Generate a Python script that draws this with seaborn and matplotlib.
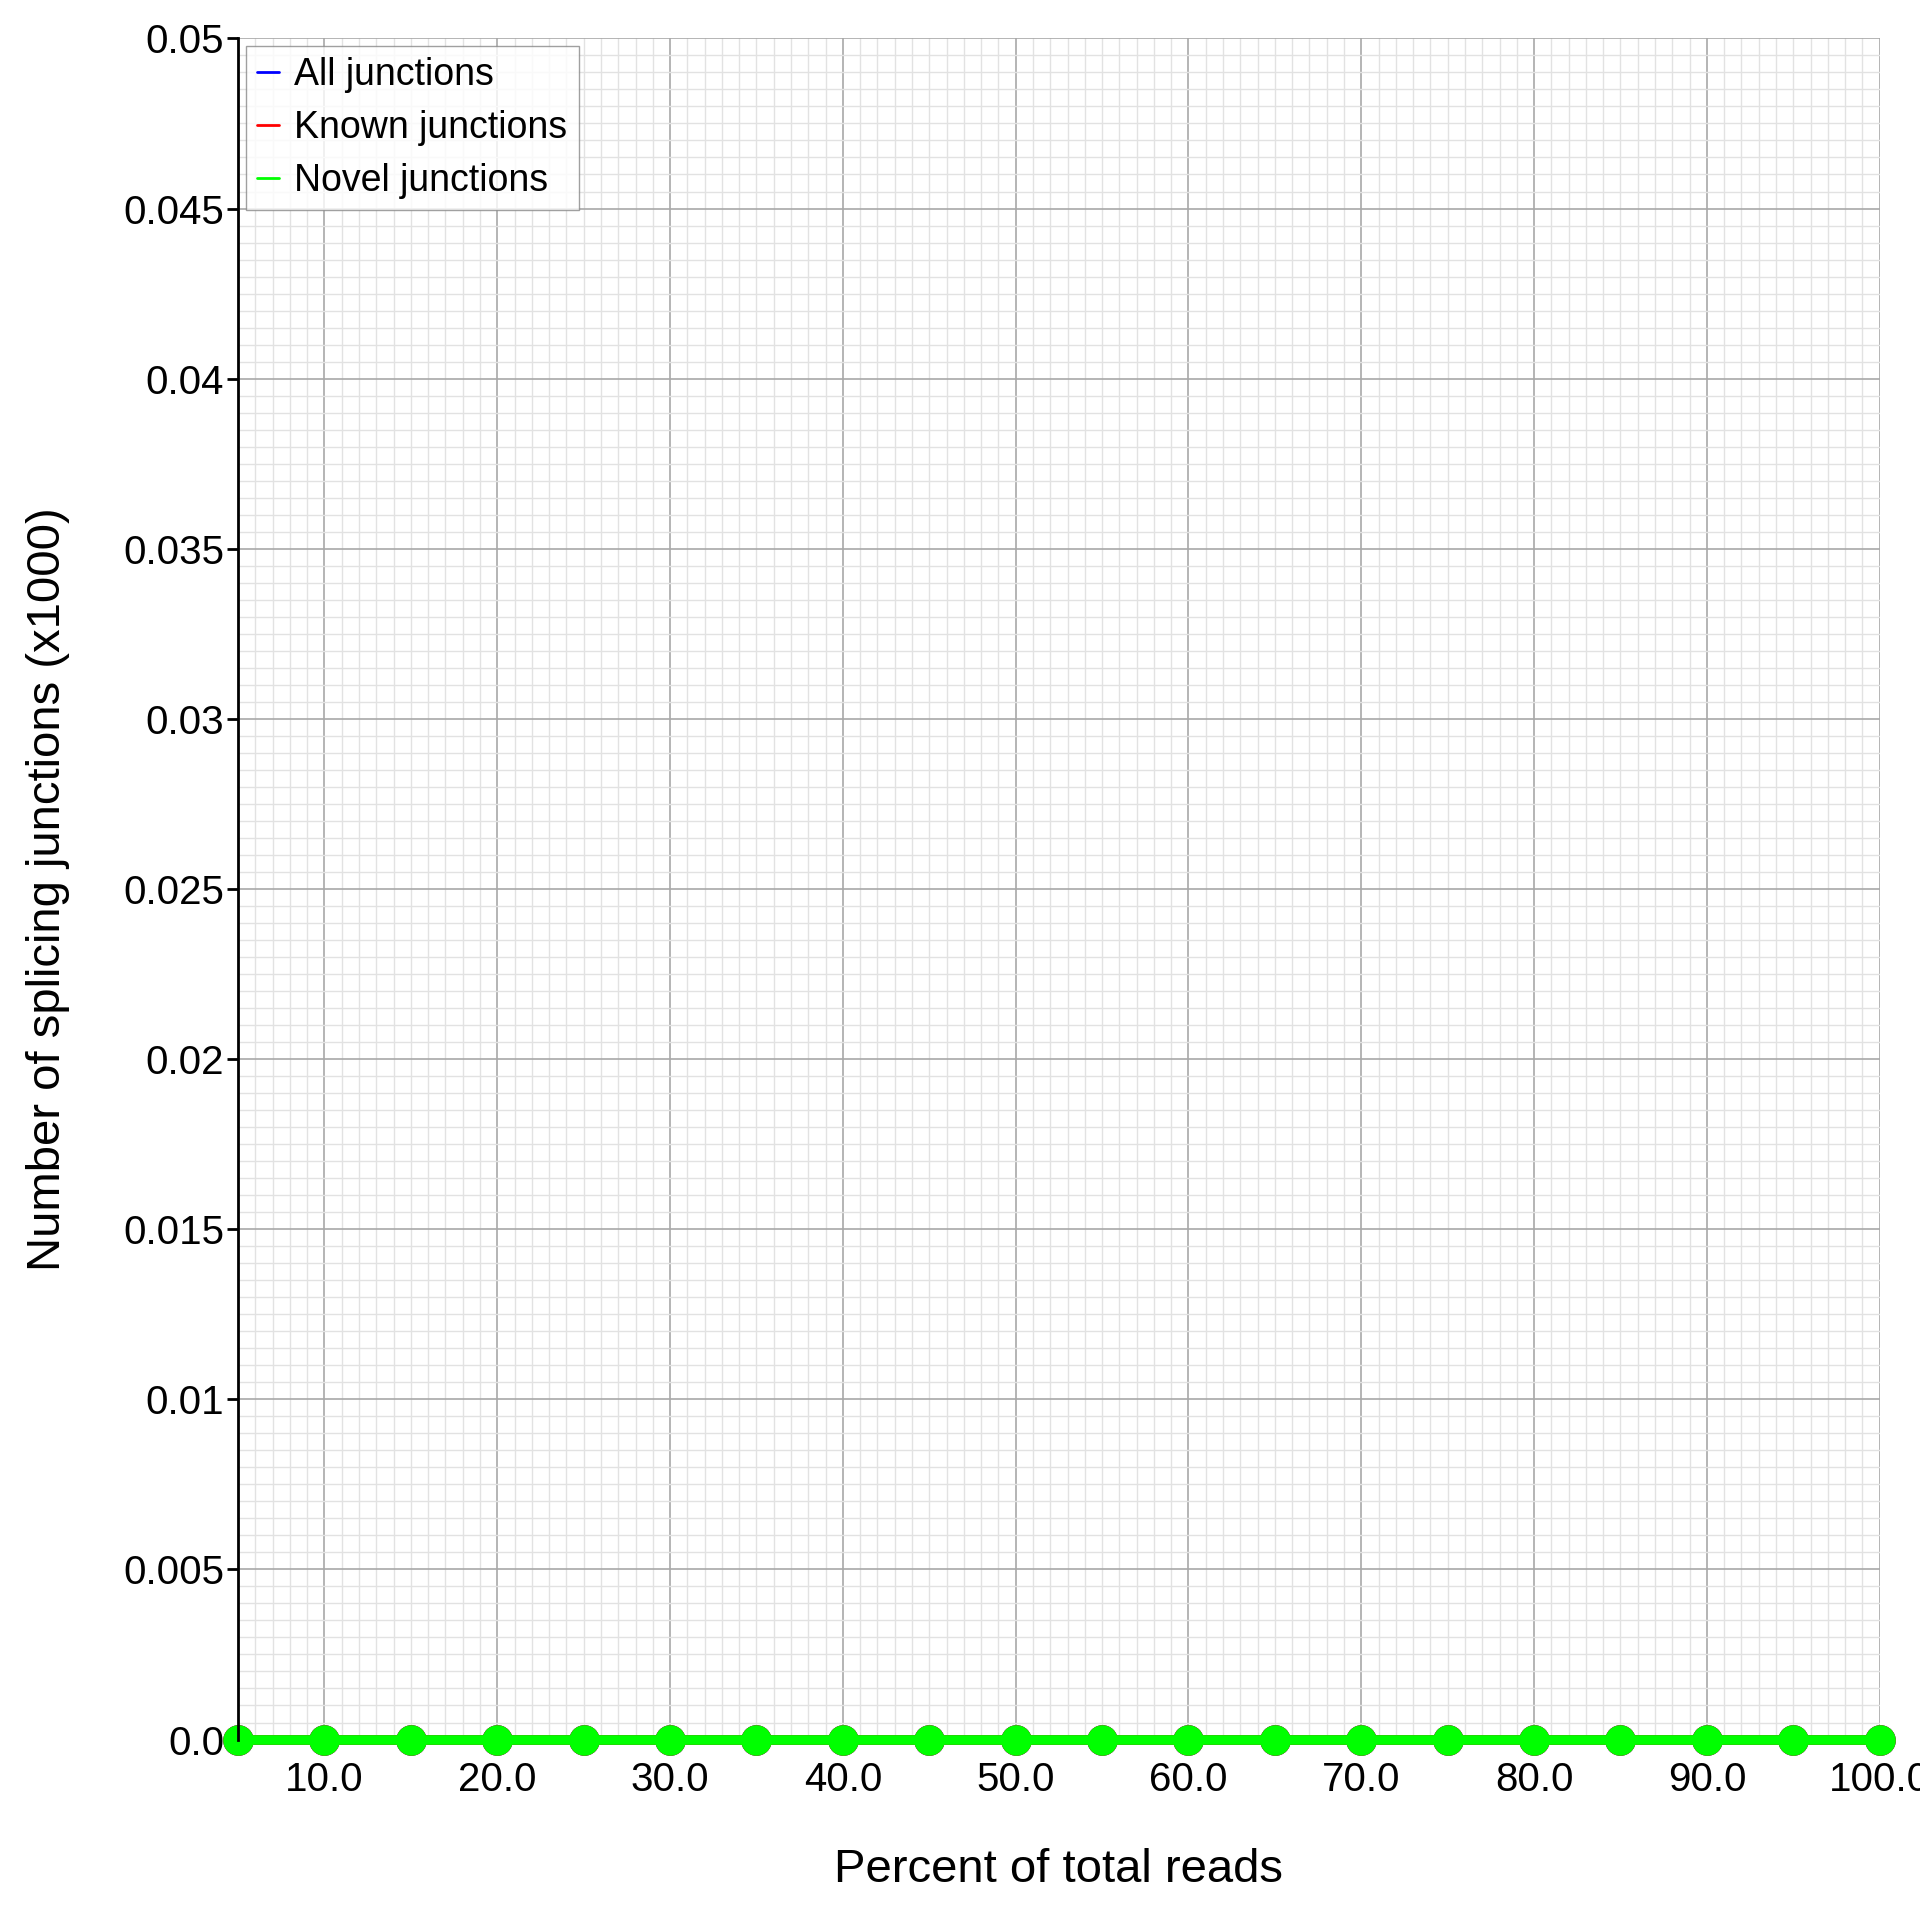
import numpy as np
import pandas as pd
import matplotlib
matplotlib.use('Agg')
import matplotlib.pyplot as plt
from matplotlib.ticker import MultipleLocator, FormatStrFormatter
import seaborn as sns

# Datos
percent = [5, 10, 15, 20, 25, 30, 35, 40, 45, 50, 55, 60, 65, 70, 75, 80, 85, 90, 95, 100]
all_junctions = [0.0] * 20
known_junctions = [0.0] * 20
novel_junctions = [0.0] * 20

df = pd.DataFrame({'percent': percent * 3,
                   'value': all_junctions + known_junctions + novel_junctions,
                   'series': ['All junctions'] * 20 + ['Known junctions'] * 20 + ['Novel junctions'] * 20})
colors = {'All junctions': '#0000ff', 'Known junctions': '#ff0000', 'Novel junctions': '#00ff00'}

sns.set_style('white')
plt.rcParams['font.family'] = ['Liberation Sans', 'DejaVu Sans']
plt.rcParams['text.color'] = 'black'
plt.rcParams['axes.labelcolor'] = 'black'
plt.rcParams['xtick.color'] = 'black'
plt.rcParams['ytick.color'] = 'black'

fig = plt.figure(figsize=(19.2, 19.2), dpi=100)
ax = fig.add_axes([0.124, 0.094, 0.855, 0.886])

sns.lineplot(data=df, x='percent', y='value', hue='series', palette=colors,
             marker='o', markersize=22, markeredgewidth=0, linewidth=7, ax=ax, legend=False)
for ln in ax.lines:
    ln.set_clip_on(False)

ax.set_xlim(5, 100)
ax.set_ylim(0, 0.05)
ax.xaxis.set_major_locator(MultipleLocator(10))
ax.xaxis.set_minor_locator(MultipleLocator(1))
ax.yaxis.set_major_locator(MultipleLocator(0.005))
ax.yaxis.set_minor_locator(MultipleLocator(0.0005))
ax.xaxis.set_major_formatter(FormatStrFormatter('%.1f'))
ax.set_yticks([0, 0.005, 0.01, 0.015, 0.02, 0.025, 0.03, 0.035, 0.04, 0.045, 0.05])
ax.set_yticklabels(['0.0', '0.005', '0.01', '0.015', '0.02', '0.025', '0.03', '0.035', '0.04', '0.045', '0.05'])
ax.grid(which='major', color='#a8a8a8', linewidth=1.2)
ax.grid(which='minor', color='#e2e2e2', linewidth=1.0)
ax.set_axisbelow(True)
for s in ['top', 'right', 'bottom']:
    ax.spines[s].set_visible(False)
ax.spines['left'].set_color('black')
ax.spines['left'].set_linewidth(2)
ax.tick_params(axis='y', which='major', left=True, length=8, width=2, labelsize=29, pad=2)
ax.tick_params(axis='x', which='major', bottom=False, labelsize=29, pad=12)
ax.xaxis.set_tick_params(which='minor', bottom=False)
ax.yaxis.set_tick_params(which='minor', left=False)

ax.set_xlabel('Percent of total reads', fontsize=34, labelpad=35)
ax.set_ylabel('Number of splicing junctions (x1000)', fontsize=34, labelpad=38)

handles = [plt.Line2D([], [], color=c, linewidth=2) for c in colors.values()]
leg = ax.legend(handles, list(colors.keys()), loc='upper left', fontsize=27, frameon=True,
                fancybox=False, handlelength=0.6, handletextpad=0.4, borderpad=0.3,
                borderaxespad=0.2, labelspacing=0.45)
leg.get_frame().set_edgecolor('#888888')

fig.savefig('out.png', dpi=100)
